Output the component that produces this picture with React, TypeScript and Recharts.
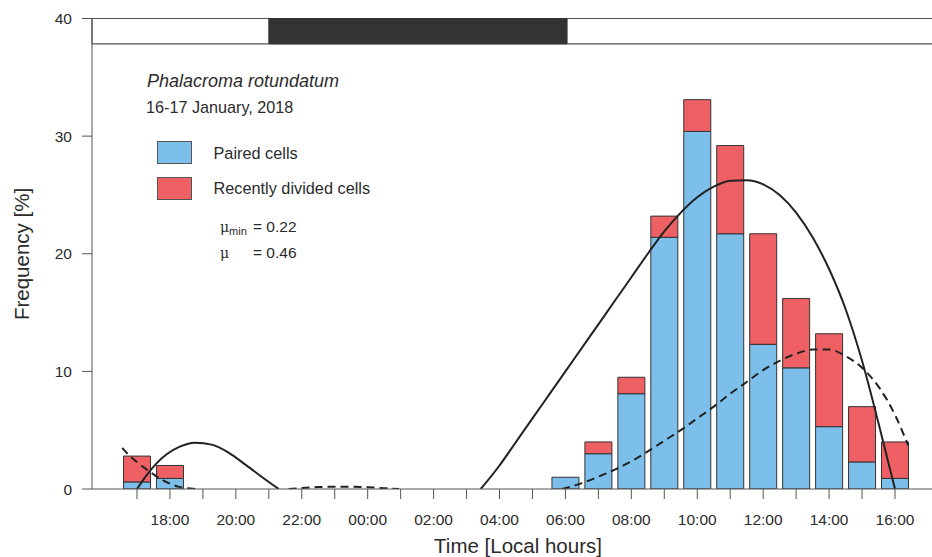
import React from 'react';
import {
  ComposedChart, Bar, Line, XAxis, YAxis, ReferenceArea,
} from 'recharts';

// hours run on from the evening of the 16th: 24 = 00:00, 40 = 16:00 on the 17th
const barHours = [17, 18, 30, 31, 32, 33, 34, 35, 36, 37, 38, 39, 40];
const pairedCells = [0.6, 0.9, 1.0, 3.0, 8.1, 21.4, 30.4, 21.7, 12.3, 10.3, 5.3, 2.3, 0.9];
const totalCells = [2.8, 2.0, 1.0, 4.0, 9.5, 23.2, 33.1, 29.2, 21.7, 16.2, 13.2, 7.0, 4.0];

// fitted curves (solid = paired, dashed = recently divided)
const solidEveHours = [17.0, 17.3, 17.6, 17.9, 18.3, 18.75, 19.3, 19.8, 20.3, 20.8, 21.3];
const solidEveValues = [0, 1.2, 2.2, 2.95, 3.6, 3.94, 3.75, 3.05, 2.05, 1.0, 0];
const solidDayHours = [27.43, 28, 28.5, 29, 29.5, 30, 30.5, 31, 31.5, 32, 32.5, 33, 33.5, 34, 34.5, 35, 35.5, 36, 36.5, 37, 37.5, 38, 38.5, 39, 39.5, 40];
const solidDayValues = [0, 2.0, 4.0, 6.0, 8.0, 10.0, 12.0, 14.0, 16.0, 18.0, 20.0, 21.9, 23.5, 24.8, 25.7, 26.2, 26.25, 25.9, 25.0, 23.5, 21.4, 18.7, 15.3, 10.9, 5.6, 0];
const dashedEveHours = [16.55, 16.75, 17.0, 17.25, 17.5, 17.75, 18.0, 18.25, 18.5, 18.8];
const dashedEveValues = [3.5, 2.9, 2.3, 1.75, 1.25, 0.8, 0.45, 0.2, 0.07, 0];
const dashedNightHours = [21.6, 22.0, 22.5, 23.0, 23.5, 24.0, 24.5, 24.95];
const dashedNightValues = [0, 0.08, 0.16, 0.2, 0.2, 0.15, 0.07, 0];
const dashedDayHours = [29.9, 30.5, 31, 31.5, 32, 32.5, 33, 33.5, 34, 34.5, 35, 35.5, 36, 36.5, 37, 37.5, 38, 38.5, 39, 39.5, 40, 40.4];
const dashedDayValues = [0, 0.5, 1.05, 1.65, 2.35, 3.2, 4.1, 5.0, 6.0, 7.0, 8.1, 9.1, 10.1, 10.9, 11.5, 11.85, 11.85, 11.3, 10.3, 8.7, 6.3, 3.7];

const hourTicks = [17, 18, 19, 20, 21, 22, 23, 24, 25, 26, 27, 28, 29, 30, 31, 32, 33, 34, 35, 36, 37, 38, 39, 40];
const hourLabels = ['', '18:00', '', '20:00', '', '22:00', '', '00:00', '', '02:00', '', '04:00', '', '06:00', '', '08:00', '', '10:00', '', '12:00', '', '14:00', '', '16:00'];
const freqTicks = [0, 10, 20, 30, 40];

// light/dark band at the top (dark = night)
const nightStart = 21.0;
const nightEnd = 30.05;

const legendItems = [
  { label: 'Paired cells', color: '#7cbfeb' },
  { label: 'Recently divided cells', color: '#ef6064' },
];

const FONT = "'Liberation Sans', Arial, Helvetica, sans-serif";
const INK = '#2b2b2b';
const X_DOMAIN: [number, number] = [15.635, 41.487];

const barData = barHours.map((h, i) => ({
  hour: h,
  paired: pairedCells[i],
  divided: +(totalCells[i] - pairedCells[i]).toFixed(2),
}));

const toSeries = (hours: number[], values: number[]) =>
  hours.map((h, i) => ({ hour: h, v: values[i] }));

const curves = [
  { key: 'se', data: toSeries(solidEveHours, solidEveValues), dash: undefined },
  { key: 'sd', data: toSeries(solidDayHours, solidDayValues), dash: undefined },
  { key: 'de', data: toSeries(dashedEveHours, dashedEveValues), dash: '8 5' },
  { key: 'dn', data: toSeries(dashedNightHours, dashedNightValues), dash: '8 5' },
  { key: 'dd', data: toSeries(dashedDayHours, dashedDayValues), dash: '8 5' },
];

const Annotations = () => (
  <svg
    width={932}
    height={557}
    style={{ position: 'absolute', left: 0, top: 0, pointerEvents: 'none' }}
    fontFamily={FONT}
    fill={INK}
  >
    <text x={147} y={87} fontSize={18} fontStyle="italic">Phalacroma rotundatum</text>
    <text x={146} y={113} fontSize={16.2}>16-17 January, 2018</text>

    {legendItems.map((it, i) => (
      <g key={it.label}>
        <rect x={157.5} y={141.5 + i * 36} width={34} height={22} fill={it.color} stroke="#555" strokeWidth={1} />
        <text x={213.5} y={158.5 + i * 35} fontSize={16.3}>{it.label}</text>
      </g>
    ))}

    <text x={220} y={232} fontSize={15.5}>
      <tspan fontFamily="'DejaVu Serif', serif" fontSize={14}>μ</tspan>
      <tspan fontSize={11} dy={3}>min</tspan>
    </text>
    <text x={253} y={232} fontSize={15.5}>= 0.22</text>
    <text x={220} y={257.5} fontSize={15.5}>
      <tspan fontFamily="'DejaVu Serif', serif" fontSize={14}>μ</tspan>
    </text>
    <text x={253} y={257.5} fontSize={15.5}>= 0.46</text>

    <text transform="translate(29,254) rotate(-90)" textAnchor="middle" fontSize={20.5}>Frequency [%]</text>
    <text x={518} y={553} textAnchor="middle" fontSize={20.5}>Time [Local hours]</text>
  </svg>
);

export default function App() {
  return (
    <div style={{
      position: 'absolute', left: 0, top: 0, width: 932, height: 557,
      overflow: 'hidden', background: '#fff',
    }}>
      <ComposedChart
        width={944}
        height={557}
        data={barData}
        margin={{ top: 18.5, right: 0, bottom: 0, left: 0 }}
        style={{ fontFamily: FONT }}
      >
        <XAxis
          dataKey="hour"
          type="number"
          domain={X_DOMAIN}
          allowDataOverflow
          ticks={hourTicks}
          interval={0}
          tickFormatter={(v: number) => hourLabels[hourTicks.indexOf(v)] ?? ''}
          tickSize={10}
          tickMargin={15}
          height={68}
          stroke="#555"
          tick={{ fill: INK, fontSize: 15.5 }}
        />
        {/* curves get their own (hidden) x axis so their dense points don't shrink the bar band */}
        <XAxis
          xAxisId="curve"
          dataKey="hour"
          type="number"
          domain={X_DOMAIN}
          allowDataOverflow
          hide
        />
        <YAxis
          type="number"
          domain={[0, 40]}
          allowDataOverflow
          ticks={freqTicks}
          interval={0}
          tickSize={10}
          tickMargin={10}
          width={92}
          stroke="#555"
          tick={{ fill: INK, fontSize: 15.5 }}
        />
        <ReferenceArea
          x1={X_DOMAIN[0]} x2={X_DOMAIN[1]} y1={37.85} y2={40}
          fill="#fff" fillOpacity={1} stroke="#555" strokeWidth={1.2}
        />
        <ReferenceArea
          x1={nightStart} x2={nightEnd} y1={37.85} y2={40}
          fill="#333" fillOpacity={1} stroke="#333"
        />
        <Bar dataKey="paired" stackId="a" fill="#7cbfeb" stroke="#333" strokeWidth={1} barSize={27} isAnimationActive={false} />
        <Bar dataKey="divided" stackId="a" fill="#ef6064" stroke="#333" strokeWidth={1} barSize={27} isAnimationActive={false} />
        {curves.map((c) => (
          <Line
            key={c.key}
            xAxisId="curve"
            data={c.data}
            dataKey="v"
            type="monotone"
            stroke="#222"
            strokeWidth={2}
            strokeDasharray={c.dash}
            dot={false}
            activeDot={false}
            isAnimationActive={false}
          />
        ))}
      </ComposedChart>
      <Annotations />
    </div>
  );
}
